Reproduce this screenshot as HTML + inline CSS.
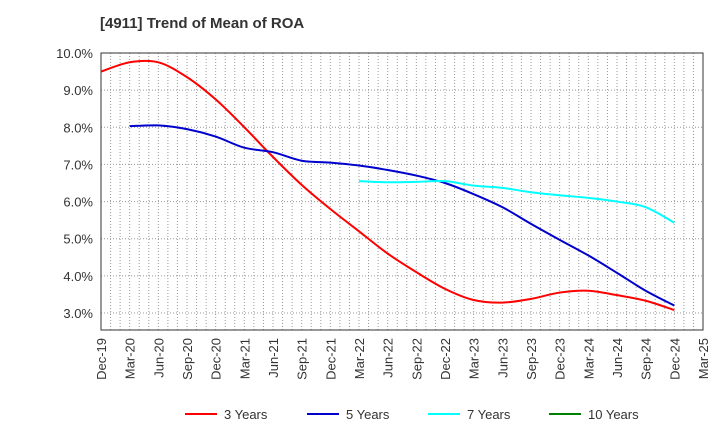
<!DOCTYPE html>
<html><head><meta charset="utf-8"><style>
body{margin:0;background:#fff;font-family:"Liberation Sans",sans-serif}
</style></head><body>
<svg id="c" width="720" height="440" xmlns="http://www.w3.org/2000/svg" font-family="Liberation Sans, sans-serif">
<text x="100" y="28" font-size="15" font-weight="bold" fill="#333">[4911]  Trend of Mean of ROA</text>
<g id="grid"></g><g id="axes"></g><g id="series"></g><g id="legend"></g>
</svg>
<script>
const xLabels=["Dec-19","Mar-20","Jun-20","Sep-20","Dec-20","Mar-21","Jun-21","Sep-21","Dec-21","Mar-22","Jun-22","Sep-22","Dec-22","Mar-23","Jun-23","Sep-23","Dec-23","Mar-24","Jun-24","Sep-24","Dec-24","Mar-25"];
const yTicks=[3,4,5,6,7,8,9,10];
const s3=[9.5,9.75,9.75,9.35,8.75,8.0,7.2,6.45,5.8,5.2,4.6,4.1,3.65,3.35,3.28,3.38,3.55,3.6,3.48,3.33,3.08];
const s5=[null,8.03,8.05,7.95,7.75,7.45,7.33,7.1,7.05,6.97,6.85,6.7,6.5,6.2,5.85,5.4,4.97,4.55,4.08,3.6,3.2];
const s7=[null,null,null,null,null,null,null,null,null,6.55,6.52,6.53,6.55,6.43,6.37,6.25,6.17,6.1,6.0,5.85,5.43];
const s10=[];
const names=["3 Years","5 Years","7 Years","10 Years"];
const colors=["#ff0000","#0000cc","#00ffff","#008000"];
const L=101,R=703,T=53,B=330;
const NS="http://www.w3.org/2000/svg";
const X=i=>L+i*(R-L)/(xLabels.length-1);
const Y=v=>T+(10-v)*(313-T)/7;
function el(t,a,p){const e=document.createElementNS(NS,t);for(const k in a)e.setAttribute(k,a[k]);document.getElementById(p).appendChild(e);return e;}
for(let m=1;m<(xLabels.length-1)*3;m++){const x=L+m*(R-L)/((xLabels.length-1)*3);
const g=el("line",{x1:x,x2:x,y1:T,y2:B,stroke:"#999","stroke-dasharray":"1,2","stroke-width":1},"grid");

}
yTicks.forEach(v=>{const g=el("line",{x1:L,x2:R,y1:Y(v),y2:Y(v),stroke:"#999","stroke-dasharray":"1,2"},"grid");


const t=el("text",{x:L-8,y:Y(v)+5,"text-anchor":"end","font-size":13,fill:"#333"},"axes");t.textContent=v.toFixed(1)+"%";

});
const fr=el("rect",{x:L,y:T,width:R-L,height:B-T,fill:"none",stroke:"#333"},"axes");


xLabels.forEach((s,i)=>{const t=el("text",{transform:`translate(${X(i)+5},${B+8}) rotate(-90)`,"text-anchor":"end","font-size":13,fill:"#333"},"axes");t.textContent=s;

});
function path(arr){const p=[];arr.forEach((v,i)=>{if(v!=null)p.push([X(i),Y(v)]);});if(p.length<2)return "";
let d=`M${p[0][0]},${p[0][1]}`;for(let i=0;i<p.length-1;i++){const p0=p[i-1]||p[i],p1=p[i],p2=p[i+1],p3=p[i+2]||p2;
d+=` C${p1[0]+(p2[0]-p0[0])/6},${p1[1]+(p2[1]-p0[1])/6} ${p2[0]-(p3[0]-p1[0])/6},${p2[1]-(p3[1]-p1[1])/6} ${p2[0]},${p2[1]}`;}return d;}
[s3,s5,s7,s10].forEach((s,k)=>{const d=path(s);if(!d)return;const e=el("path",{d:d,fill:"none",stroke:colors[k],"stroke-width":2},"series");

});
const lx=[185,307,428,549];
names.forEach((n,k)=>{const l=el("line",{x1:lx[k],x2:lx[k]+32,y1:414,y2:414,stroke:colors[k],"stroke-width":2},"legend");


const t=el("text",{x:lx[k]+39,y:419,"font-size":13,fill:"#333"},"legend");t.textContent=n;

});
</script>
</body></html>
